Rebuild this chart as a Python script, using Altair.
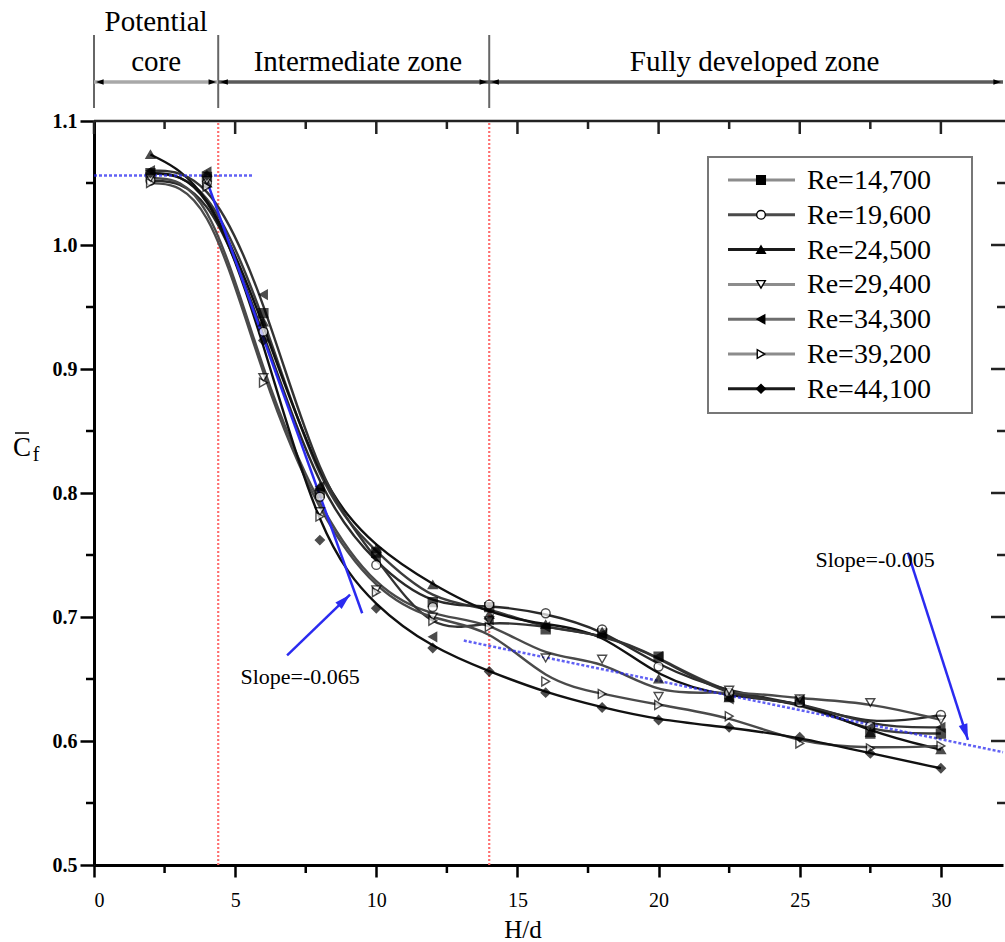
import altair as alt
import pandas as pd

# ---------------- data ----------------
H_d = [2, 4, 6, 8, 10, 12, 14, 16, 18, 20, 22.5, 25, 27.5, 30]
re_names = ["Re=14,700", "Re=19,600", "Re=24,500", "Re=29,400",
            "Re=34,300", "Re=39,200", "Re=44,100"]
cf_14700 = [1.058, 1.055, 0.945, 0.800, 0.752, 0.712, 0.708, 0.690, 0.687, 0.668, 0.636, 0.632, 0.606, 0.606]
cf_19600 = [1.052, 1.050, 0.930, 0.797, 0.742, 0.708, 0.710, 0.703, 0.690, 0.660, 0.639, 0.631, 0.612, 0.621]
cf_24500 = [1.073, 1.050, 0.938, 0.805, 0.755, 0.726, 0.702, 0.694, 0.688, 0.650, 0.635, 0.633, 0.607, 0.593]
cf_29400 = [1.054, 1.052, 0.893, 0.785, 0.722, 0.700, 0.697, 0.667, 0.666, 0.636, 0.641, 0.634, 0.631, 0.617]
cf_34300 = [1.060, 1.059, 0.960, 0.805, 0.748, 0.684, 0.698, 0.692, 0.686, 0.668, 0.634, 0.633, 0.611, 0.611]
cf_39200 = [1.050, 1.047, 0.889, 0.781, 0.720, 0.697, 0.692, 0.648, 0.638, 0.629, 0.620, 0.598, 0.594, 0.596]
cf_44100 = [1.058, 1.056, 0.923, 0.762, 0.707, 0.675, 0.656, 0.639, 0.627, 0.617, 0.611, 0.603, 0.590, 0.578]
all_cf = [cf_14700, cf_19600, cf_24500, cf_29400, cf_34300, cf_39200, cf_44100]

shapes = ["square", "circle", "triangle-up", "triangle-down",
          "triangle-left", "triangle-right", "diamond"]
fills = ["black", "white", "black", "white", "black", "white", "black"]
line_colors = ["#3c3c3c", "#2a2a2a", "#111111", "#4a4a4a", "#333333", "#4a4a4a", "#111111"]
legend_line_colors = ["#8c8c8c", "#4a4a4a", "#1a1a1a", "#8c8c8c", "#6e6e6e", "#8c8c8c", "#1a1a1a"]

zone_bounds = [0, 4.4, 14]
zone_labels = ["Intermediate zone", "Fully developed zone"]

# blue guide lines (x, y end points)
plateau_x = [0, 5.6];      plateau_y = [1.056, 1.056]
steep_x = [3.93, 9.5];     steep_y = [1.056, 0.703]
shallow_x = [13.1, 32.2];  shallow_y = [0.681, 0.591]
arrow1_x = [6.84, 9.07];   arrow1_y = [0.669, 0.718]
arrow2_x = [28.83, 30.96]; arrow2_y = [0.752, 0.601]
slope_texts = ["Slope=-0.065", "Slope=-0.005"]
slope_x = [7.3, 27.67]
slope_y = [0.652, 0.746]

x_major = [0, 5, 10, 15, 20, 25, 30]
x_minor = [2.5, 7.5, 12.5, 17.5, 22.5, 27.5]
y_major = [0.5, 0.6, 0.7, 0.8, 0.9, 1.0, 1.1]
y_minor = [0.55, 0.65, 0.75, 0.85, 0.95, 1.05]

# ---------------- layout ----------------
X_MAX = 32.2
W, HT = 909, 744
SERIF = "Liberation Serif"
BLUE = "#2b2bf0"

xs = alt.Scale(domain=[0, X_MAX], nice=False, zero=False)
ys = alt.Scale(domain=[0.5, 1.1], nice=False, zero=False)
x_axis = alt.Axis(values=x_major, title=None, grid=False, tickSize=12, tickWidth=2.5,
                  tickColor="black", domainColor="black", domainWidth=3,
                  labelFont=SERIF, labelFontSize=20, labelPadding=13, labelColor="black")
y_axis = alt.Axis(values=y_major, format=".1f", title=None, grid=False, tickSize=14,
                  tickWidth=2.5, tickColor="black", domainColor="black", domainWidth=3,
                  labelFont=SERIF, labelFontSize=20, labelFontWeight="bold",
                  labelPadding=3, labelColor="black")


def X(f):
    return alt.X(f, type="quantitative", scale=xs, axis=x_axis)


def Y(f):
    return alt.Y(f, type="quantitative", scale=ys, axis=y_axis)


rows = []
for name, vals in zip(re_names, all_cf):
    for h, v in zip(H_d, vals):
        rows.append({"H": h, "Cf": v, "Re": name})
df = pd.DataFrame(rows)

layers = []

# red zone boundaries inside plot
red_df = pd.DataFrame({"x": zone_bounds[1:], "y0": [0.5, 0.5], "y1": [1.1, 1.1]})
layers.append(alt.Chart(red_df).mark_rule(color="#ff6f6f", strokeWidth=2.2, strokeDash=[2, 2])
              .encode(x=X("x"), y=Y("y0"), y2="y1"))

# data curves
layers.append(alt.Chart(df).mark_line(interpolate="basis", strokeWidth=2.4).encode(
    x=X("H"), y=Y("Cf"),
    color=alt.Color("Re:N", scale=alt.Scale(domain=re_names, range=line_colors), legend=None)))

# blue guides
def seg_df(xv, yv):
    return pd.DataFrame({"x": xv, "y": yv})

layers.append(alt.Chart(seg_df(plateau_x, plateau_y)).mark_line(color=BLUE, strokeWidth=2.5, strokeDash=[3, 2], opacity=0.75)
              .encode(x=X("x"), y=Y("y")))
layers.append(alt.Chart(seg_df(shallow_x, shallow_y)).mark_line(color=BLUE, strokeWidth=2.5, strokeDash=[3, 2], opacity=0.75)
              .encode(x=X("x"), y=Y("y")))
layers.append(alt.Chart(seg_df(steep_x, steep_y)).mark_line(color=BLUE, strokeWidth=2.5)
              .encode(x=X("x"), y=Y("y")))

# data markers
layers.append(alt.Chart(df).mark_point(filled=True, size=80, stroke="black", strokeWidth=1.4).encode(
    x=X("H"), y=Y("Cf"),
    shape=alt.Shape("Re:N", scale=alt.Scale(domain=re_names, range=shapes), legend=None),
    fill=alt.Fill("Re:N", scale=alt.Scale(domain=re_names, range=fills), legend=None)))

# arrows
ARROW = "M0,0L-0.45,1.6L0.45,1.6Z"
for ax_, ay_, ang in [(arrow1_x, arrow1_y, 46), (arrow2_x, arrow2_y, 162)]:
    d = seg_df(ax_, ay_)
    layers.append(alt.Chart(d).mark_line(color=BLUE, strokeWidth=2.5).encode(x=X("x"), y=Y("y")))
    layers.append(alt.Chart(d.iloc[[1]]).mark_point(shape=ARROW, filled=True, color=BLUE, size=400,
                                                    angle=ang, opacity=1)
                  .encode(x=X("x"), y=Y("y")))

slope_df = pd.DataFrame({"x": slope_x, "y": slope_y, "t": slope_texts})
layers.append(alt.Chart(slope_df).mark_text(font=SERIF, fontSize=22, color="black")
              .encode(x=X("x"), y=Y("y"), text="t"))

# minor ticks and frame
layers.append(alt.Chart(pd.DataFrame({"x": x_minor})).mark_rule(color="black", strokeWidth=2.5)
              .encode(x=X("x"), y=alt.value(HT), y2=alt.value(HT + 8)))
layers.append(alt.Chart(pd.DataFrame({"y": y_minor})).mark_rule(color="black", strokeWidth=2.5)
              .encode(y=Y("y"), x=alt.value(-8), x2=alt.value(0)))
layers.append(alt.Chart(pd.DataFrame({"x": x_major})).mark_rule(color="#222", strokeWidth=2.5)
              .encode(x=X("x"), y=alt.value(0), y2=alt.value(13)))
layers.append(alt.Chart(pd.DataFrame({"x": x_minor})).mark_rule(color="#222", strokeWidth=2.5)
              .encode(x=X("x"), y=alt.value(0), y2=alt.value(8)))
layers.append(alt.Chart(pd.DataFrame({"y": y_major[1:-1]})).mark_rule(color="#222", strokeWidth=2.5)
              .encode(y=Y("y"), x=alt.value(W - 12), x2=alt.value(W + 2)))
layers.append(alt.Chart(pd.DataFrame({"y": y_minor})).mark_rule(color="#222", strokeWidth=2.5)
              .encode(y=Y("y"), x=alt.value(W - 6), x2=alt.value(W + 2)))
layers.append(alt.Chart(pd.DataFrame({"a": [0]})).mark_rule(color="#222", strokeWidth=2.5)
              .encode(x=alt.value(0), x2=alt.value(W + 2), y=alt.value(0)))

# zone header above the plot
zb_df = pd.DataFrame({"x": zone_bounds})
layers.append(alt.Chart(zb_df).mark_rule(color="#666", strokeWidth=2)
              .encode(x=X("x"), y=alt.value(-86), y2=alt.value(-13)))
zone_ends = zone_bounds + [X_MAX]
zs_df = pd.DataFrame({"x0": zone_ends[:-1], "x1": zone_ends[1:],
                      "c": ["#a8a8a8", "#5a5a5a", "#5a5a5a"]})
layers.append(alt.Chart(zs_df).mark_rule(strokeWidth=3.5)
              .encode(x=X("x0"), x2="x1", y=alt.value(-39), color=alt.Color("c:N", scale=None)))
HEAD_L = "M0,0L1.7,-0.6L1.7,0.6Z"
HEAD_R = "M0,0L-1.7,-0.6L-1.7,0.6Z"
layers.append(alt.Chart(zs_df).mark_point(shape=HEAD_L, filled=True, color="black", size=81,
                                          xOffset=2, opacity=1)
              .encode(x=X("x0"), y=alt.value(-39)))
layers.append(alt.Chart(zs_df).mark_point(shape=HEAD_R, filled=True, color="black", size=81,
                                          xOffset=-2, opacity=1)
              .encode(x=X("x1"), y=alt.value(-39)))
zl_df = pd.DataFrame({"x": [(zone_ends[1] + zone_ends[2]) / 2 + 0.15, (zone_ends[2] + zone_ends[3]) / 2 + 0.3],
                      "t": zone_labels})
layers.append(alt.Chart(zl_df).mark_text(font=SERIF, fontSize=29, color="black")
              .encode(x=X("x"), y=alt.value(-59), text="t"))
pc_df = pd.DataFrame({"x": [(zone_ends[0] + zone_ends[1]) / 2] * 2, "t": ["Potential", "core"],
                      "py": [-99, -59]})
layers.append(alt.Chart(pc_df).mark_text(font=SERIF, fontSize=29, color="black")
              .encode(x=X("x"), y=alt.Y("py:Q", scale=None, axis=None), text="t"))

# legend
layers.append(alt.Chart(pd.DataFrame({"a": [0]})).mark_rect(fill="white", stroke="#777", strokeWidth=2)
              .encode(x=alt.value(614), x2=alt.value(878), y=alt.value(36), y2=alt.value(292)))
for i, name in enumerate(re_names):
    ly = 59 + 34.8 * i
    ldf = pd.DataFrame({"t": [name]})
    layers.append(alt.Chart(ldf).mark_rule(color=legend_line_colors[i], strokeWidth=3)
                  .encode(x=alt.value(634), x2=alt.value(701), y=alt.value(ly)))
    layers.append(alt.Chart(ldf).mark_point(shape=shapes[i], filled=True, fill=fills[i], stroke="black",
                                            strokeWidth=1.4, size=75, opacity=1)
                  .encode(x=alt.value(667), y=alt.value(ly)))
    layers.append(alt.Chart(ldf).mark_text(font=SERIF, fontSize=28, align="left", baseline="middle",
                                           color="black")
                  .encode(x=alt.value(713), y=alt.value(ly + 1), text="t"))

# axis titles
layers.append(alt.Chart(pd.DataFrame({"t": ["H/d"]})).mark_text(font=SERIF, fontSize=25, color="black")
              .encode(x=alt.value(429), y=alt.value(809), text="t"))
layers.append(alt.Chart(pd.DataFrame({"t": ["C"]})).mark_text(font=SERIF, fontSize=27, color="black")
              .encode(x=alt.value(-72), y=alt.value(327), text="t"))
layers.append(alt.Chart(pd.DataFrame({"t": ["f"]})).mark_text(font=SERIF, fontSize=20, color="black")
              .encode(x=alt.value(-58), y=alt.value(334), text="t"))
layers.append(alt.Chart(pd.DataFrame({"a": [0]})).mark_rule(color="black", strokeWidth=1.5)
              .encode(x=alt.value(-79), x2=alt.value(-65), y=alt.value(312)))

chart = alt.layer(*layers).properties(
    width=W, height=HT,
    autosize=alt.AutoSizeParams(type="none"),
    padding={"left": 94, "top": 121, "right": 2, "bottom": 77},
).configure_view(stroke=None)

chart.save("out.html", embed_options={"renderer": "svg", "actions": False})
